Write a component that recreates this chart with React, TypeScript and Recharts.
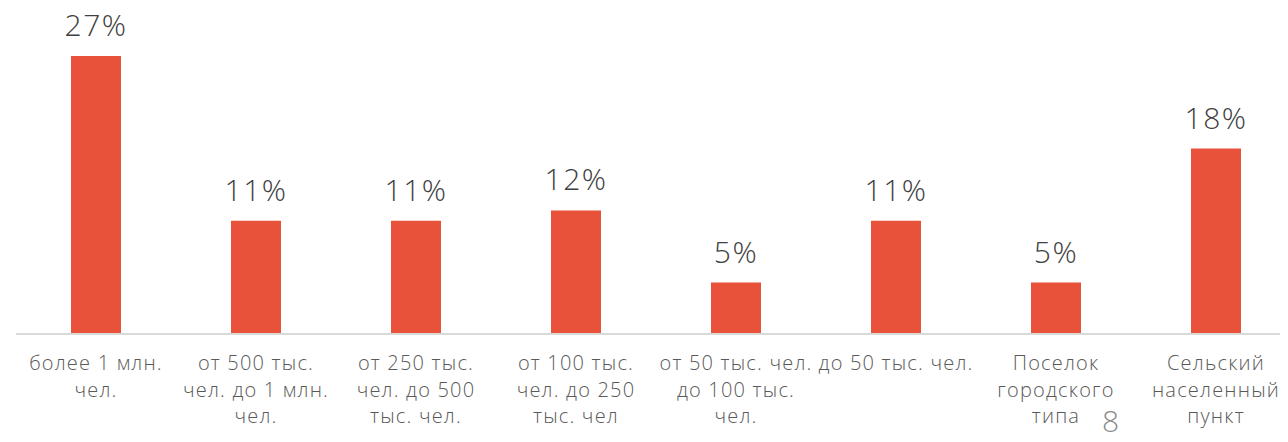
import React from "react";
import { BarChart, Bar, XAxis, YAxis, LabelList } from "recharts";

const categories = [
  "более 1 млн. чел.",
  "от 500 тыс. чел. до 1 млн. чел.",
  "от 250 тыс. чел. до 500 тыс. чел.",
  "от 100 тыс. чел. до 250 тыс. чел",
  "от 50 тыс. чел. до 100 тыс. чел.",
  "до 50 тыс. чел.",
  "Поселок городского типа",
  "Сельский населенный пункт",
];

const tickLines: string[][] = [
  ["более 1 млн.", "чел."],
  ["от 500 тыс.", "чел. до 1 млн.", "чел."],
  ["от 250 тыс.", "чел. до 500", "тыс. чел."],
  ["от 100 тыс.", "чел. до 250", "тыс. чел"],
  ["от 50 тыс. чел.", "до 100 тыс.", "чел."],
  ["до 50 тыс. чел."],
  ["Поселок", "городского", "типа"],
  ["Сельский", "населенный", "пункт"],
];

const shares = [27, 11, 11, 12, 5, 11, 5, 18];

const pageNumber = "8";

const data = categories.map((c, i) => ({ name: c, value: shares[i] }));

const FONT = "'Open Sans', 'Noto Sans', sans-serif";

const Tick = (props: any) => {
  const { x, y, index } = props;
  const lines = tickLines[index] || [];
  return (
    <text
      x={x}
      y={y}
      textAnchor="middle"
      fill="#595959"
      fontSize={20}
      letterSpacing={1.2}
      fontFamily={FONT}
      fontWeight={300}
    >
      {lines.map((l, i) => (
        <tspan key={i} x={x} dy={i === 0 ? 28 : 26.5}>
          {l}
        </tspan>
      ))}
    </text>
  );
};

export default function App() {
  return (
    <div
      style={{
        position: "relative",
        width: 1288,
        height: 442,
        margin: "-8px 0 0 -8px",
        overflow: "hidden",
      }}
    >
      <BarChart
        width={1296}
        height={442}
        data={data}
        margin={{ top: 25, right: 0, bottom: 0, left: 16 }}
        barSize={50}
      >
        <XAxis
          dataKey="name"
          interval={0}
          height={108}
          tickLine={false}
          axisLine={{ stroke: "#d9d9d9", strokeWidth: 2 }}
          tick={<Tick />}
        />
        <YAxis hide domain={[0, 30]} />
        <Bar dataKey="value" fill="#E9523A" isAnimationActive={false}>
          <LabelList
            dataKey="value"
            position="top"
            offset={20}
            formatter={(v: any) => `${v}%`}
            fill="#404040"
            fontSize={30}
            letterSpacing={1.5}
            fontFamily={FONT}
            fontWeight={300}
          />
        </Bar>
      </BarChart>
      <div
        style={{
          position: "absolute",
          left: 1102,
          top: 400,
          fontFamily: FONT,
          fontWeight: 300,
          fontSize: 30,
          color: "#8a8a8a",
          lineHeight: "41px",
        }}
      >
        {pageNumber}
      </div>
    </div>
  );
}
